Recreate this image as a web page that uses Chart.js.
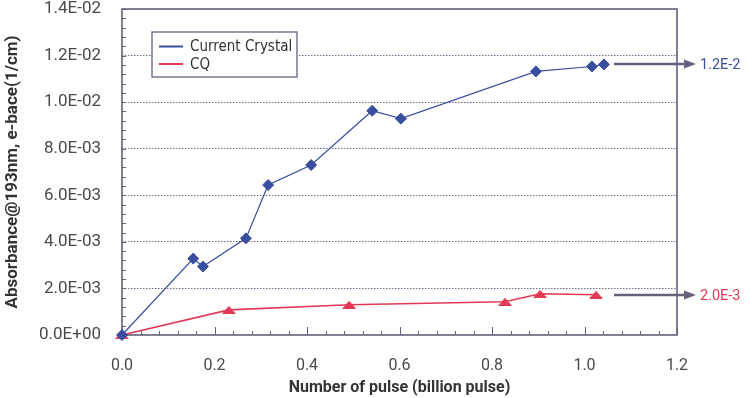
<!DOCTYPE html>
<html lang="en">
<head>
<meta charset="UTF-8">
<title>Absorbance vs number of pulse</title>
<script src="https://cdn.jsdelivr.net/npm/chart.js@4.4.1/dist/chart.umd.min.js"></script>
<style>
  body { margin: 0; background: #fff; }
  .wrap { position: relative; width: 750px; height: 398px; }
</style>
</head>
<body>
<div class="wrap"><canvas id="chart"></canvas></div>
<script>
// values
const seriesNames = ['Current Crystal', 'CQ'];
const pulseCrystal = [0, 0.154, 0.175, 0.268, 0.316, 0.409, 0.541, 0.603, 0.895, 1.016, 1.042];
const absCrystal = [0, 3.28e-3, 2.94e-3, 4.15e-3, 6.44e-3, 7.30e-3, 9.63e-3, 9.29e-3, 11.32e-3, 11.53e-3, 11.62e-3];
const pulseCQ = [0, 0.231, 0.491, 0.828, 0.904, 1.025];
const absCQ = [0, 1.08e-3, 1.30e-3, 1.43e-3, 1.77e-3, 1.73e-3];
const endLabels = ['1.2E-2', '2.0E-3'];
const xTitle = 'Number of pulse (billion pulse)';
const yTitle = 'Absorbance@193nm, e-bace(1/cm)';

const blue = '#3a4e9f';
const red = '#e03a56';
const axisColor = '#62627a';

function toPoints(xs, ys) {
  return xs.map((x, i) => ({ x: x, y: ys[i] }));
}

// flat triangle marker like the original
function flatTriangle(w, h, color) {
  const c = document.createElement('canvas');
  c.width = w; c.height = h;
  const g = c.getContext('2d');
  g.fillStyle = color;
  g.beginPath();
  g.moveTo(w / 2, 0);
  g.lineTo(w, h);
  g.lineTo(0, h);
  g.closePath();
  g.fill();
  return c;
}

function sci(v) {
  if (Math.abs(v) < 1e-12) return '0.0E+00';
  const parts = v.toExponential(1).split('e');
  const n = parseInt(parts[1], 10);
  return parts[0] + 'E' + (n < 0 ? '-' : '+') + String(Math.abs(n)).padStart(2, '0');
}

// frame + inward ticks (minor every 0.04 / 0.4E-3)
const frameTicks = {
  id: 'frameTicks',
  beforeDatasetsDraw(chart) {
    const { ctx, chartArea: a, scales: { x, y } } = chart;
    ctx.save();
    ctx.strokeStyle = axisColor;
    ctx.lineWidth = 1;
    ctx.beginPath();
    for (let i = 0; i <= 30; i++) {
      const px = Math.round(x.getPixelForValue(i * 0.04)) + 0.5;
      const len = i % 5 === 0 ? 8 : 4;
      ctx.moveTo(px, a.bottom);
      ctx.lineTo(px, a.bottom - len);
    }
    for (let i = 0; i <= 35; i++) {
      const py = Math.round(y.getPixelForValue(i * 0.0004)) + 0.5;
      ctx.moveTo(a.left, py);
      ctx.lineTo(a.left + 4, py);
    }
    ctx.stroke();
    ctx.lineWidth = 1.6;
    ctx.strokeRect(a.left, a.top, a.right - a.left, a.bottom - a.top);
    ctx.restore();
  }
};

const boxLegend = {
  id: 'boxLegend',
  afterDraw(chart) {
    const { ctx, chartArea: a } = chart;
    const bx = a.left + 30, by = a.top + 23, bw = 145, bh = 45;
    ctx.save();
    ctx.fillStyle = '#fff';
    ctx.fillRect(bx, by, bw, bh);
    ctx.strokeStyle = axisColor;
    ctx.lineWidth = 1.3;
    ctx.strokeRect(bx, by, bw, bh);
    ctx.font = '15px "DejaVu Sans Condensed", "DejaVu Sans", sans-serif';
    ctx.textBaseline = 'middle';
    chart.data.datasets.forEach((ds, i) => {
      const ly = by + 14.5 + i * 17.5;
      ctx.strokeStyle = ds.borderColor;
      ctx.lineWidth = 2;
      ctx.beginPath();
      ctx.moveTo(bx + 7, ly);
      ctx.lineTo(bx + 31, ly);
      ctx.stroke();
      ctx.fillStyle = '#333';
      ctx.fillText(ds.label, bx + 38, ly + 1);
    });
    ctx.restore();
  }
};

// arrows to the end values on the right
const endArrows = {
  id: 'endArrows',
  afterDraw(chart) {
    const { ctx, chartArea: a, scales: { y } } = chart;
    ctx.save();
    chart.data.datasets.forEach((ds, i) => {
      const last = ds.data[ds.data.length - 1];
      const py = Math.round(y.getPixelForValue(last.y));
      ctx.strokeStyle = axisColor;
      ctx.fillStyle = axisColor;
      ctx.lineWidth = 2.4;
      ctx.beginPath();
      ctx.moveTo(a.right - 63, py);
      ctx.lineTo(a.right + 9, py);
      ctx.stroke();
      ctx.beginPath();
      ctx.moveTo(a.right + 19, py);
      ctx.lineTo(a.right + 7, py - 4.5);
      ctx.lineTo(a.right + 7, py + 4.5);
      ctx.closePath();
      ctx.fill();
      ctx.fillStyle = ds.borderColor;
      ctx.font = '14.5px Roboto, sans-serif';
      ctx.textBaseline = 'middle';
      ctx.fillText(endLabels[i], a.right + 23, py + 1);
    });
    ctx.restore();
  }
};

new Chart(document.getElementById('chart'), {
  type: 'scatter',
  data: {
    datasets: [{
      label: seriesNames[0],
      data: toPoints(pulseCrystal, absCrystal),
      showLine: true,
      borderColor: blue,
      backgroundColor: blue,
      borderWidth: 1.2,
      pointStyle: 'rectRot',
      pointRadius: 5.5,
      pointBorderWidth: 1,
      clip: false
    }, {
      label: seriesNames[1],
      data: toPoints(pulseCQ, absCQ),
      showLine: true,
      borderColor: red,
      backgroundColor: red,
      borderWidth: 1.6,
      pointStyle: flatTriangle(14, 8, red),
      clip: false
    }]
  },
  options: {
    responsive: true,
    maintainAspectRatio: false,
    animation: false,
    layout: { autoPadding: false, padding: { left: 0, top: 9, right: 73, bottom: 0 } },
    plugins: { legend: { display: false }, tooltip: { enabled: false } },
    scales: {
      x: {
        type: 'linear',
        min: 0,
        max: 1.2,
        afterFit: s => { s.height = 63; },
        border: { display: false },
        grid: { display: false },
        ticks: {
          stepSize: 0.2,
          padding: 13,
          color: '#4a4a4a',
          font: { family: 'Roboto', size: 16 },
          callback: v => v.toFixed(1)
        },
        title: {
          display: true,
          text: xTitle,
          color: '#333',
          font: { family: 'Roboto', size: 16, weight: 'bold' },
          padding: { top: 0, bottom: 0 }
        }
      },
      y: {
        min: 0,
        max: 0.014,
        afterFit: s => { s.width = 122; },
        border: { display: false, dash: [1.5, 1.5] },
        grid: {
          drawTicks: true,
          tickLength: 21,
          tickColor: 'rgba(0,0,0,0)',
          lineWidth: 1,
          color: c => (c.tick && c.tick.value > 1e-6 && c.tick.value < 0.0139) ? '#6c6c88' : 'rgba(0,0,0,0)'
        },
        ticks: {
          stepSize: 0.002,
          padding: 0,
          color: '#4a4a4a',
          font: { family: 'Roboto', size: 17, lineHeight: 1.05 },
          callback: v => sci(v)
        },
        title: {
          display: true,
          text: yTitle,
          color: '#333',
          font: { family: 'Roboto', size: 17, weight: 'bold' },
          padding: { top: 3, bottom: 0 }
        }
      }
    }
  },
  plugins: [frameTicks, boxLegend, endArrows]
});
</script>
</body>
</html>
